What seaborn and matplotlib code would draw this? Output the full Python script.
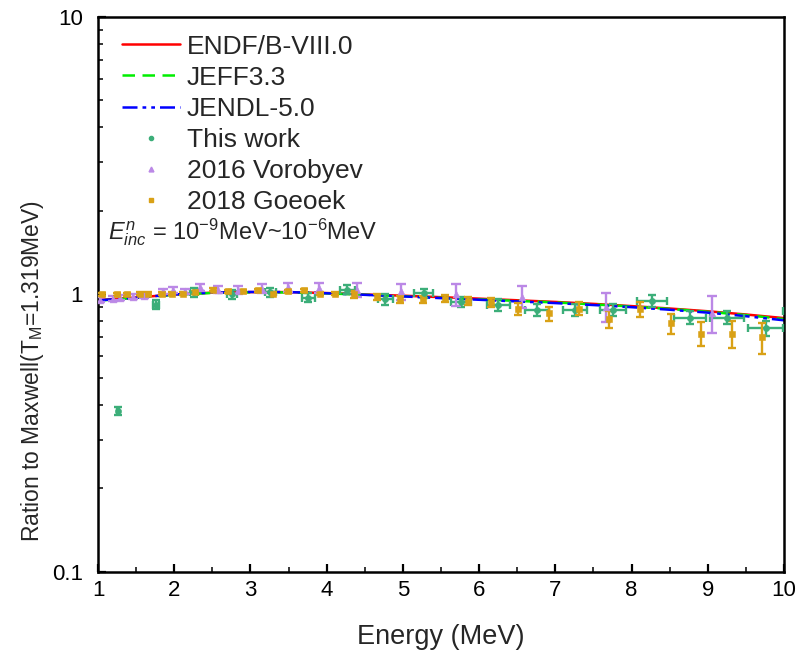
import numpy as np
import pandas as pd
import matplotlib
matplotlib.use("Agg")
import matplotlib.pyplot as plt
from matplotlib.ticker import FixedLocator, NullFormatter, LogLocator
from matplotlib.lines import Line2D
import seaborn as sns

# ---- evaluated-library ratio curves ----
e_model = [1.0, 1.5, 2.0, 2.5, 3.0, 3.5, 4.0, 4.5, 5.0, 5.5, 6.0, 6.5, 7.0, 7.5, 8.0, 8.5, 9.0, 9.5, 10.0]
endf = [0.955, 0.975, 1.0, 1.015, 1.02, 1.02, 1.012, 1.0, 0.99, 0.978, 0.966, 0.953, 0.94, 0.925, 0.908, 0.89, 0.87, 0.847, 0.822]
jeff = [0.95, 0.972, 0.998, 1.013, 1.018, 1.017, 1.009, 0.998, 0.986, 0.973, 0.96, 0.948, 0.936, 0.921, 0.905, 0.887, 0.866, 0.843, 0.815]
jendl = [0.952, 0.974, 1.0, 1.016, 1.021, 1.02, 1.01, 0.997, 0.984, 0.97, 0.957, 0.944, 0.931, 0.916, 0.9, 0.881, 0.86, 0.835, 0.807]

# ---- this work ----
e_tw = [1.26, 1.76, 2.26, 2.76, 3.26, 3.76, 4.27, 4.77, 5.27, 5.76, 6.25, 6.76, 7.26, 7.76, 8.27, 8.76, 9.25, 9.76, 10.26]
r_tw = [0.38, 0.92, 1.017, 1.0, 1.017, 0.975, 1.04, 0.96, 1.01, 0.94, 0.92, 0.88, 0.88, 0.88, 0.95, 0.825, 0.825, 0.755, 0.87]
ex_tw = [0.01, 0.04, 0.05, 0.066, 0.07, 0.09, 0.1, 0.1, 0.13, 0.13, 0.15, 0.16, 0.16, 0.17, 0.2, 0.21, 0.22, 0.23, 0.28]
ey_tw = [0.012, 0.035, 0.035, 0.035, 0.035, 0.035, 0.04, 0.04, 0.04, 0.04, 0.045, 0.045, 0.045, 0.045, 0.045, 0.045, 0.045, 0.045, 0.045]

# ---- 2016 Vorobyev ----
e_vo = [1.03, 1.2, 1.29, 1.46, 1.6, 1.85, 1.98, 2.14, 2.34, 2.57, 2.84, 3.15, 3.49, 3.9, 4.4, 4.98, 5.7, 6.56, 7.67, 9.06]
r_vo = [0.959, 0.967, 0.975, 0.983, 0.99, 1.025, 1.04, 1.025, 1.06, 1.04, 1.04, 1.05, 1.06, 1.055, 1.04, 1.025, 1.0, 0.983, 0.905, 0.854]
ey_vo = [0.02, 0.02, 0.02, 0.02, 0.02, 0.025, 0.025, 0.025, 0.03, 0.03, 0.035, 0.04, 0.04, 0.045, 0.06, 0.07, 0.09, 0.09, 0.11, 0.13]

# ---- 2018 Goeoek ----
e_go = [1.05, 1.25, 1.38, 1.55, 1.66, 1.84, 1.97, 2.12, 2.27, 2.51, 2.71, 2.9, 3.1, 3.3, 3.49, 3.7, 3.91, 4.11,
        4.36, 4.66, 4.96, 5.26, 5.55, 5.85, 6.16, 6.51, 6.92, 7.31, 7.7, 8.11, 8.52, 8.91, 9.32, 9.71]
r_go = [1.0, 1.0, 1.0, 1.008, 1.008, 1.008, 1.008, 1.008, 1.017, 1.042, 1.025, 1.025, 1.034, 1.008, 1.025, 1.034, 1.008, 1.008,
        1.0, 0.983, 0.959, 0.959, 0.967, 0.95, 0.936, 0.89, 0.854, 0.89, 0.815, 0.883, 0.786, 0.723, 0.723, 0.70]
ey_go = [0.015] * 18 + [0.025, 0.025, 0.025, 0.025, 0.025, 0.03, 0.035, 0.045, 0.05, 0.05, 0.055, 0.055, 0.065, 0.07, 0.08, 0.09]

C_TW = "#3cae79"
C_VO = "#bb88e6"
C_GO = "#d9a116"

sns.set_theme(style="ticks")
plt.rcParams["font.family"] = ["Liberation Sans", "DejaVu Sans"]
plt.rcParams["mathtext.fontset"] = "custom"
plt.rcParams["mathtext.rm"] = "Liberation Sans"
plt.rcParams["mathtext.it"] = "Liberation Sans:italic"

fig = plt.figure(figsize=(7.99, 6.52), dpi=100)
ax = fig.add_axes([0.1227, 0.1227, 0.8586, 0.8513])

models = pd.DataFrame({"E": e_model, "ENDF": endf, "JEFF": jeff, "JENDL": jendl})
sns.lineplot(data=models, x="E", y="ENDF", ax=ax, color="#ff0000", lw=1.8, zorder=2)
sns.lineplot(data=models, x="E", y="JEFF", ax=ax, color="#00ee00", lw=1.8, linestyle=(0, (5, 3)), zorder=2)
sns.lineplot(data=models, x="E", y="JENDL", ax=ax, color="#0000ff", lw=1.8,
             linestyle=(0, (6, 2, 1.5, 2, 1.5, 2)), zorder=2)

# error bars
ax.errorbar(e_tw, r_tw, xerr=ex_tw, yerr=ey_tw, fmt="none", ecolor=C_TW, elinewidth=1.7,
            capsize=3, capthick=1.7, zorder=3)
ax.errorbar(e_vo, r_vo, yerr=ey_vo, fmt="none", ecolor=C_VO, elinewidth=1.7,
            capsize=3.5, capthick=1.7, zorder=3)
ax.errorbar(e_go, r_go, yerr=ey_go, fmt="none", ecolor=C_GO, elinewidth=1.7,
            capsize=3, capthick=1.7, zorder=3)

tw = pd.DataFrame({"E": e_tw, "R": r_tw})
vo = pd.DataFrame({"E": e_vo, "R": r_vo})
go = pd.DataFrame({"E": e_go, "R": r_go})
sns.scatterplot(data=tw, x="E", y="R", ax=ax, color=C_TW, marker="o", s=20, edgecolor=C_TW, zorder=4)
sns.scatterplot(data=vo, x="E", y="R", ax=ax, color=C_VO, marker="^", s=24, edgecolor=C_VO, zorder=4)
sns.scatterplot(data=go, x="E", y="R", ax=ax, color=C_GO, marker="s", s=24, edgecolor=C_GO, zorder=4)

ax.set_yscale("log")
ax.set_xlim(1, 10)
ax.set_ylim(0.1, 10)
ax.set_xticks(range(1, 11))
ax.xaxis.set_minor_locator(FixedLocator(np.arange(1.5, 10, 1.0)))
ax.set_yticks([0.1, 1, 10])
ax.set_yticklabels(["0.1", "1", "10"])
ax.yaxis.set_minor_locator(LogLocator(base=10, subs=np.arange(2, 10)))
ax.yaxis.set_minor_formatter(NullFormatter())

for s in ax.spines.values():
    s.set_linewidth(1.8)
    s.set_color("black")
ax.tick_params(axis="both", which="major", direction="in", length=6, width=1.6,
               labelsize=16, colors="black", top=False, right=False)
ax.tick_params(axis="both", which="minor", direction="in", length=3.5, width=1.3,
               top=False, right=False)
ax.tick_params(axis="x", which="major", pad=6)
ax.tick_params(axis="y", which="major", pad=11)

ax.set_xlabel("Energy (MeV)", fontsize=19.5, labelpad=16)
ax.set_ylabel("Ration to Maxwell(T$_\\mathregular{M}$=1.319MeV)", fontsize=16.5)
ax.yaxis.set_label_coords(-0.076, 0.362)

handles = [
    Line2D([], [], color="#ff0000", lw=1.8),
    Line2D([], [], color="#00ee00", lw=1.8, linestyle=(0, (5, 3))),
    Line2D([], [], color="#0000ff", lw=1.8, linestyle=(0, (6, 2, 1.5, 2, 1.5, 2))),
    Line2D([], [], color=C_TW, marker="o", ms=3, lw=0),
    Line2D([], [], color=C_VO, marker="^", ms=3.5, lw=0),
    Line2D([], [], color=C_GO, marker="s", ms=3, lw=0),
]
labels = ["ENDF/B-VIII.0", "JEFF3.3", "JENDL-5.0", "This work", "2016 Vorobyev", "2018 Goeoek"]
ax.legend(handles, labels, loc="upper left", bbox_to_anchor=(0.006, 1.004), frameon=False,
          fontsize=19, handlelength=2.2, handletextpad=0.25, labelspacing=0.27,
          borderaxespad=0.55, borderpad=0.2)

ax.text(0.015, 0.613, "$E^{n}_{inc}$ = 10$^{-9}$MeV~10$^{-6}$MeV",
        transform=ax.transAxes, fontsize=17, va="center", ha="left")

fig.savefig("out.png", dpi=100)
